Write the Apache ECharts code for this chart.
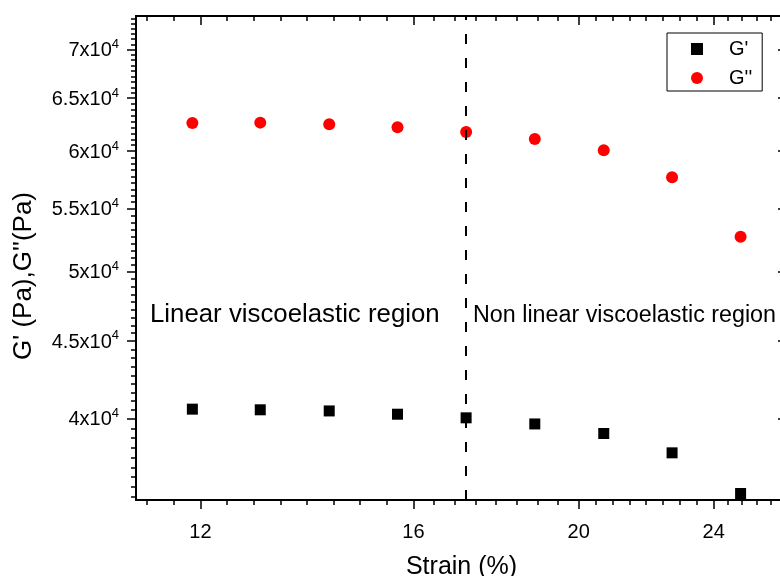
<!DOCTYPE html>
<html><head><meta charset="utf-8">
<script src="https://cdn.jsdelivr.net/npm/echarts@6/dist/echarts.min.js"></script>
<style>html,body{margin:0;padding:0;background:#fff}#c{width:780px;height:576px}</style>
</head><body><div id="c"></div>
<script>
// ---- data ----
const strain = [11.87, 13.01, 14.28, 15.66, 17.18, 18.85, 20.69, 22.69, 24.89];
const gPrime = [40570, 40530, 40460, 40260, 40040, 39670, 39100, 37970, 35700];
const gDouble = [62610, 62640, 62490, 62210, 61760, 61110, 60080, 57670, 52690];
const xTickLabels = [12, 16, 20, 24];
const yTickLabels = [40000, 45000, 50000, 55000, 60000, 65000, 70000];
const boundaryStrain = 17.18;
const xRange = [11, 26.5];
const yRange = [35350, 73630];
const seriesNames = ["G'", "G''"];

// minor ticks: equal pixel spacing (log space) between major ticks
function minorBetween(a, b, n) { const r = []; for (let k = 1; k < n; k++) r.push(a * Math.pow(b / a, k / n)); return r; }
const xMajorExt = [9, 12, 16, 20, 24, 28];
let xMinor = [];
for (let i = 0; i < xMajorExt.length - 1; i++) xMinor = xMinor.concat(minorBetween(xMajorExt[i], xMajorExt[i + 1], 8));
xMinor = xMinor.filter(v => v > xRange[0] && v < xRange[1]);
const yMajorExt = [35000, 40000, 45000, 50000, 55000, 60000, 65000, 70000, 75000];
let yMinor = [];
for (let i = 0; i < yMajorExt.length - 1; i++) yMinor = yMinor.concat(minorBetween(yMajorExt[i], yMajorExt[i + 1], 9));
yMinor = yMinor.filter(v => v > yRange[0] && v < yRange[1]);

const FONT = "'Liberation Sans', Arial, sans-serif";
const lineW = 2;

function xAx(position, custom, len, inside, labels) {
  return {
    type: 'log', position: position, min: xRange[0], max: xRange[1],
    axisLine: { show: true, lineStyle: { color: '#000', width: lineW } },
    axisTick: { show: true, customValues: custom, length: len, inside: inside, lineStyle: { color: '#000', width: 1.5 } },
    axisLabel: labels ? { show: true, customValues: xTickLabels, fontSize: 20, fontFamily: FONT, color: '#000', margin: 22 } : { show: false },
    splitLine: { show: false }, minorTick: { show: false }, minorSplitLine: { show: false }
  };
}
function yAx(position, custom, len, inside, labels) {
  return {
    type: 'log', position: position, min: yRange[0], max: yRange[1],
    axisLine: { show: true, lineStyle: { color: '#000', width: lineW } },
    axisTick: { show: true, customValues: custom, length: len, inside: inside, lineStyle: { color: '#000', width: 1.5 } },
    axisLabel: labels ? {
      show: true, customValues: yTickLabels, margin: 17, color: '#000',
      formatter: function (v) { const m = +(v / 1e4).toFixed(1); return '{b|' + m + 'x10}{s|4}'; },
      rich: {
        b: { fontSize: 20, fontFamily: FONT, color: '#000', lineHeight: 23, verticalAlign: 'bottom' },
        s: { fontSize: 13, fontFamily: FONT, color: '#000', lineHeight: 13, verticalAlign: 'top' }
      }
    } : { show: false },
    splitLine: { show: false }, minorTick: { show: false }, minorSplitLine: { show: false }
  };
}

const xAxes = [
  Object.assign(xAx('bottom', xTickLabels, 9, false, true), {
    name: 'Strain (%)', nameLocation: 'middle', nameGap: 55,
    nameTextStyle: { fontSize: 25, fontFamily: FONT, color: '#000' }
  }),
  xAx('bottom', xMinor, 5, false, false),
  xAx('top', xTickLabels, 9, true, false),
  xAx('top', xMinor, 5, true, false)
];
const yAxes = [
  Object.assign(yAx('left', yTickLabels, 9, false, true), {
    name: "G' (Pa),G''(Pa)", nameLocation: 'middle', nameGap: 99, nameRotate: 90,
    nameTextStyle: { fontSize: 26, fontFamily: FONT, color: '#000', padding: [0, 36, 0, 0] }
  }),
  yAx('left', yMinor, 5, false, false),
  yAx('right', yTickLabels, 9, true, false),
  yAx('right', yMinor, 5, true, false)
];

const chart = echarts.init(document.getElementById('c'), null, { renderer: 'canvas' });
chart.setOption({
  animation: false,
  backgroundColor: '#fff',
  grid: { left: 136, top: 16, width: 651, height: 484, containLabel: false, outerBoundsMode: 'none' },
  xAxis: xAxes,
  yAxis: yAxes,
  legend: {
    left: 667, top: 33, orient: 'vertical',
    itemWidth: 12, itemHeight: 12, itemGap: 9,
    borderColor: '#000', borderWidth: 1, borderRadius: 0,
    padding: [6, 10, 3, 24],
    textStyle: { fontSize: 20, fontFamily: FONT, color: '#000', lineHeight: 20, padding: [0, 0, 0, 21] },
    data: seriesNames
  },
  graphic: [
    { type: 'text', left: 150, top: 302, style: { text: 'Linear viscoelastic region', fontSize: 25.8, fontFamily: FONT, fill: '#000' } },
    { type: 'text', left: 473, top: 304, style: { text: 'Non linear viscoelastic region', fontSize: 23.3, fontFamily: FONT, fill: '#000' } }
  ],
  series: [
    {
      name: seriesNames[0], type: 'scatter', xAxisIndex: 0, yAxisIndex: 0,
      symbol: 'rect', symbolSize: 11, itemStyle: { color: '#000', opacity: 1 },
      data: strain.map((s, i) => [s, gPrime[i]]),
      markLine: {
        silent: true, symbol: 'none', label: { show: false },
        lineStyle: { color: '#000', width: 2, type: [10, 14], opacity: 1 },
        data: [{ xAxis: boundaryStrain }]
      }
    },
    {
      name: seriesNames[1], type: 'scatter', xAxisIndex: 0, yAxisIndex: 0,
      symbol: 'circle', symbolSize: 12, itemStyle: { color: '#ff0000', opacity: 1 },
      data: strain.map((s, i) => [s, gDouble[i]])
    }
  ]
});
</script>
</body></html>
